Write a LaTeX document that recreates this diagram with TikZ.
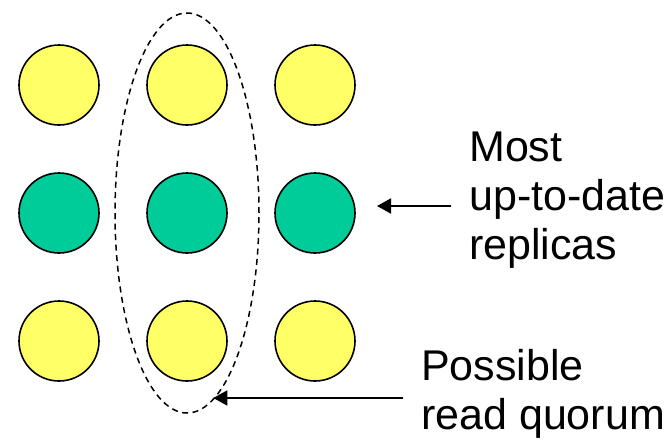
\documentclass[tikz,border=0pt]{standalone}
\usepackage{fontspec}
\setmainfont{Liberation Sans}
\usetikzlibrary{arrows.meta,shapes.geometric,positioning}

\definecolor{replyellow}{HTML}{FFFF66}
\definecolor{replgreen}{HTML}{00CC99}

\tikzset{
  replica/.style={circle, draw=black, line width=1.6pt, minimum size=80pt, inner sep=0pt},
  note/.style={font=\fontsize{43}{49}\selectfont, align=left, inner sep=0pt},
  pointer/.style={-{Triangle[length=14pt,width=15pt]}, line width=1.8pt},
}

\begin{document}
\begin{tikzpicture}[x=1pt,y=-1pt]
\useasboundingbox (0,0) rectangle (669,440);
% 3x3 grid of replicas, middle row holds the latest version
\foreach \r/\y/\c in {1/85/replyellow,2/213/replgreen,3/341/replyellow} {
  \foreach \k/\x in {1/59,2/187,3/315} {
    \node[replica, fill=\c] (r\r\k) at (\x,\y) {};
  }
}
% read quorum around the middle column
\node[ellipse, draw, line width=1.5pt, dash pattern=on 6pt off 4.5pt,
      minimum width=144pt, minimum height=400pt, inner sep=0pt] (quorum) at (r22) {};
% labels (base anchor sits on the last line)
\node[note, anchor=base west] (latest) at (469,259) {Most\\up-to-date\\replicas};
\node[note, anchor=base west] (readq) at (421,429) {Possible\\read quorum};
% pointers
\coordinate (tailA) at (451,206);
\coordinate (tipA) at (377,206);
\coordinate (tailB) at (403,398);
\draw[pointer] (tailA) -- (tipA);
\draw[pointer] (tailB) -- (tailB -| quorum.-82);
\end{tikzpicture}
\end{document}
